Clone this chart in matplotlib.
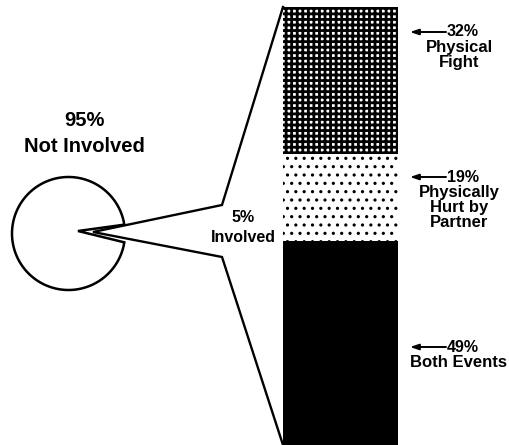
import numpy as np
import matplotlib
matplotlib.use("Agg")
import matplotlib.pyplot as plt
from matplotlib.patches import Polygon

# ---------------- data ----------------
pie_labels = ["Not Involved", "Involved"]
pie_values = [95, 5]

bar_labels = ["Both Events", "Physically\nHurt by\nPartner", "Physical\nFight"]  # bottom -> top
bar_values = [49, 19, 32]

# ---------------- style / layout ----------------
W, H = 510, 445
FONT = ["Liberation Sans", "DejaVu Sans"]
plt.rcParams['font.family'] = FONT

fig = plt.figure(figsize=(W / 100, H / 100), dpi=100)
ax = fig.add_axes([0, 0, 1, 1])
ax.set_xlim(0, W)
ax.set_ylim(H, 0)
ax.axis('off')

# ---- pie (95% wedge with 5% notch) ----
cx, cy, r = 68.5, 233.5, 56.5
apex = (78, 231)
gap = 360 * pie_values[1] / sum(pie_values)
th = np.radians(np.linspace(gap / 2, 360 - gap / 2, 300))
verts = np.column_stack([cx + r * np.cos(th), cy - r * np.sin(th)])
verts = np.vstack([verts, apex])
ax.add_patch(Polygon(verts, closed=True, facecolor='white', edgecolor='black', lw=1.8))

ax.text(84, 121, f"{pie_values[0]}%", ha='center', va='center', fontsize=14.5, fontweight='bold')
ax.text(84, 147, pie_labels[0], ha='center', va='center', fontsize=14.5, fontweight='bold')

# ---- stacked bar ----
BAR_L, BAR_R, BAR_T, BAR_B = 283, 398, 7, 465
bax = fig.add_axes([BAR_L / W, (H - BAR_B) / H, (BAR_R - BAR_L) / W, (BAR_B - BAR_T) / H])
bax.set_xlim(-0.5, 0.5)
bax.set_ylim(0, sum(bar_values))
bax.axis('off')
bottoms = np.concatenate([[0], np.cumsum(bar_values)[:-1]])
styles = [dict(facecolor='black', hatch=None, hlw=1.0),
          dict(facecolor='white', hatch='..', hlw=1.1),
          dict(facecolor='white', hatch='+++', hlw=2.0)]
for v, b, st in zip(bar_values, bottoms, styles):
    with plt.rc_context({'hatch.linewidth': st['hlw']}):
        bax.bar(0, v, bottom=b, width=1.0, color=st['facecolor'],
                edgecolor='black', hatch=st['hatch'], linewidth=0)

# ---- callout lines ----
callout = [(BAR_L, BAR_T), (222, 205), (93, 232), (222, 257), (BAR_L, 445)]
xs, ys = zip(*callout)
ax.plot(xs, ys, color='black', lw=1.7, solid_joinstyle='miter')
ax.text(243, 217, f"{pie_values[1]}%", ha='center', va='center', fontsize=11.5, fontweight='bold')
ax.text(243, 237, pie_labels[1], ha='center', va='center', fontsize=11.5, fontweight='bold')

# ---- right labels ----
label_y = [347, 177, 32]  # bottom segment, middle, top
for lab, v, y in zip(bar_labels, bar_values, label_y):
    ax.annotate('', xy=(410, y), xytext=(446, y),
                arrowprops=dict(arrowstyle='-|>,head_length=0.5,head_width=0.17',
                                color='black', lw=1.4, shrinkA=0, shrinkB=0))
    ax.text(447, y, f"{v}%", ha='left', va='center', fontsize=11.5, fontweight='bold')
    ax.text(459, y + 8, lab, ha='center', va='top', fontsize=12, fontweight='bold',
            linespacing=1.02)

fig.savefig("out.png", dpi=100)
